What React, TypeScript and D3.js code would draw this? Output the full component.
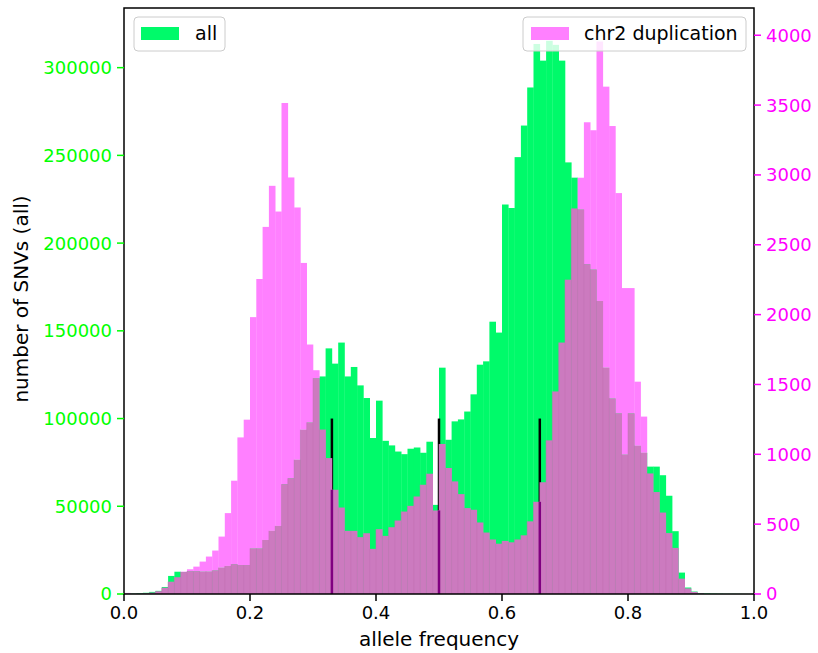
import React from "react";
import * as d3 from "d3";

const allCounts = [200, 300, 500, 700, 1200, 1800, 4000, 10300, 12700, 12500,
  13000, 13000, 12800, 12800, 13500, 15000, 16000, 17000, 16500, 16500,
  26000, 26000, 30800, 36000, 38800, 62600, 66000, 76500, 93600, 97800,
  123000, 124000, 140000, 131300, 143300, 124000, 129400, 118900, 111700, 88900,
  110200, 87300, 84700, 81200, 79700, 82800, 83500, 80500, 86800, 50800,
  129000, 87900, 98400, 99500, 104000, 113800, 130700, 132600, 155200, 149000,
  222000, 220000, 249000, 267000, 288700, 313500, 304000, 315300, 313000, 304000,
  246000, 237300, 219200, 188000, 185000, 167000, 129000, 111500, 103000, 79500,
  103000, 84500, 80500, 72600, 72600, 67700, 56000, 35800, 12200, 3700,
  1400, 500, 300, 200, 150, 100, 100, 80, 50, 30];

const dupCounts = [8, 3, 3, 5, 10, 20, 45, 88, 120, 160,
  177, 196, 232, 268, 311, 411, 579, 811, 1121, 1248,
  1982, 2255, 2628, 2922, 2738, 3515, 2982, 2767, 2370, 1786,
  1602, 1177, 973, 746, 619, 452, 452, 407, 435, 323,
  464, 416, 478, 526, 590, 631, 698, 782, 861, 598,
  1074, 902, 806, 715, 615, 603, 512, 440, 390, 360,
  380, 370, 390, 420, 520, 660, 800, 1100, 1450, 1800,
  2250, 2760, 2980, 3377, 3320, 3955, 3632, 3350, 2870, 2190,
  2190, 1520, 1270, 863, 730, 583, 436, 330, 110, 40,
  15, 5, 0, 0, 0, 0, 0, 0, 0, 0];

const binEdges = d3.range(101).map((i) => i / 100);
const markerLines = [0.33, 0.5, 0.66];
const markerHeight = 100000;
const leftTicks = [0, 50000, 100000, 150000, 200000, 250000, 300000];
const rightTicks = [0, 500, 1000, 1500, 2000, 2500, 3000, 3500, 4000];
const xTicks = [0, 0.2, 0.4, 0.6, 0.8, 1.0];

const W = 818, H = 653;
const L = 124, R = 754, T = 8, B = 594;
const GREEN = "#00fa6a";
const PINK = "#ff80ff";
const OVER = "#cc7abf";
const LINE_UNDER = "#800080";
const FONT = "DejaVu Sans, sans-serif";
const FS = 18;
const FS_LABEL = 20;
const FS_LEG = 19;

export default function App() {
  const x = d3.scaleLinear().domain([0, 1]).range([L, R]);
  const yL = d3.scaleLinear().domain([0, 334000]).range([B, T]);
  const yR = d3.scaleLinear().domain([0, 4195]).range([B, T]);

  const bins = allCounts.map((a, i) => ({
    x0: binEdges[i], x1: binEdges[i + 1], a, d: dupCounts[i],
  }));

  return (
    <svg width={W} height={H} style={{ position: "absolute", left: 0, top: 0, background: "#fff" }}
      fontFamily={FONT}>
      <rect x={0} y={0} width={W} height={H} fill="#fff" />
      {bins.map((b, i) => (
        <rect key={"g" + i} x={x(b.x0)} width={x(b.x1) - x(b.x0) + 0.3} y={yL(b.a)}
          height={B - yL(b.a)} fill={GREEN} />
      ))}
      {markerLines.map((v, i) => (
        <line key={"m" + i} x1={x(v)} x2={x(v)} y1={B} y2={yL(markerHeight)} stroke="#000" strokeWidth={2.5} />
      ))}
      {bins.map((b, i) => {
        const gt = yL(b.a), mt = yR(b.d);
        if (mt >= gt) return null;
        return <rect key={"p" + i} x={x(b.x0)} width={x(b.x1) - x(b.x0) + 0.3} y={mt}
          height={gt - mt} fill={PINK} />;
      })}
      {bins.map((b, i) => {
        const top = Math.max(yL(b.a), yR(b.d));
        return <rect key={"o" + i} x={x(b.x0)} width={x(b.x1) - x(b.x0) + 0.3} y={top}
          height={B - top} fill={OVER} />;
      })}
      {bins.map((b, i) => {
        const top = Math.max(yL(b.a), yR(b.d));
        return <line key={"s" + i} x1={x(b.x0)} x2={x(b.x0)} y1={top} y2={B} stroke="#c070b2" strokeWidth={0.5} />;
      })}
      {markerLines.map((v, i) => {
        const k = Math.round(v * 100);
        const dv = Math.min(dupCounts[k - 1], dupCounts[k]);
        const top = Math.max(yR(dv), yL(markerHeight));
        return <line key={"mu" + i} x1={x(v)} x2={x(v)} y1={B} y2={top} stroke={LINE_UNDER} strokeWidth={2.5} />;
      })}
      <rect x={L} y={T} width={R - L} height={B - T} fill="none" stroke="#000" strokeWidth={1.5} />
      {leftTicks.map((t) => (
        <g key={"lt" + t}>
          <line x1={L - 7} x2={L} y1={yL(t)} y2={yL(t)} stroke="#00ff00" strokeWidth={1.5} />
          <text x={L - 12} y={yL(t)} dy="0.36em" textAnchor="end" fontSize={FS} fill="#00ff00">{t}</text>
        </g>
      ))}
      {rightTicks.map((t) => (
        <g key={"rt" + t}>
          <line x1={R} x2={R + 7} y1={yR(t)} y2={yR(t)} stroke="#ff00ff" strokeWidth={1.5} />
          <text x={R + 12} y={yR(t)} dy="0.36em" textAnchor="start" fontSize={FS} fill="#ff00ff">{t}</text>
        </g>
      ))}
      {xTicks.map((t) => (
        <g key={"xt" + t}>
          <line x1={x(t)} x2={x(t)} y1={B} y2={B + 7} stroke="#000" strokeWidth={1.5} />
          <text x={x(t)} y={B + 25} textAnchor="middle" fontSize={FS} fill="#000">{t.toFixed(1)}</text>
        </g>
      ))}
      <text x={(L + R) / 2} y={646} textAnchor="middle" fontSize={FS_LABEL} fill="#000">allele frequency</text>
      <text transform={`translate(28, ${(T + B) / 2 - 2}) rotate(-90)`} textAnchor="middle" fontSize={FS_LABEL} fill="#000">number of SNVs (all)</text>
      <g>
        <rect x={134} y={17} width={91} height={34} rx={4} fill="#fff" fillOpacity={0.8} stroke="#cccccc" strokeWidth={1} />
        <rect x={141} y={27} width={38} height={13} fill={GREEN} />
        <text x={195} y={40} fontSize={FS_LEG} fill="#000">all</text>
      </g>
      <g>
        <rect x={523} y={17} width={223} height={34} rx={4} fill="#fff" fillOpacity={0.8} stroke="#cccccc" strokeWidth={1} />
        <rect x={531} y={27} width={38} height={13} fill={PINK} />
        <text x={584} y={40} fontSize={FS_LEG} fill="#000">chr2 duplication</text>
      </g>
    </svg>
  );
}
